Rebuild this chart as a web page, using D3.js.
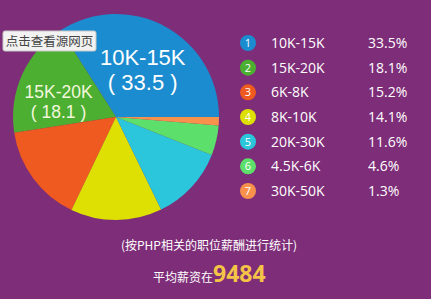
<!DOCTYPE html>
<html>
<head>
<meta charset="utf-8">
<script src="https://cdn.jsdelivr.net/npm/d3@7"></script>
<style>
  html, body { margin: 0; padding: 0; background: #7e2d78; }
  svg { display: block; font-family: "Open Sans", "Noto Sans CJK SC", sans-serif; }
</style>
</head>
<body>
<div id="chart"></div>
<script>
// salary ranges and share (%)
var ranges = ["10K-15K", "15K-20K", "6K-8K", "8K-10K", "20K-30K", "4.5K-6K", "30K-50K"];
var shares = [33.5, 18.1, 15.2, 14.1, 11.6, 4.6, 1.3];
var colors = ["#1b8ccf", "#4caf32", "#ee5a1f", "#dde002", "#2bc6dc", "#5ddf6b", "#f7914c"];
var avgSalary = "9484";

var svgWidth = 431;
var svgHeight = 299;

var svg = d3.select("#chart").append("svg")
    .attr("width", svgWidth).attr("height", svgHeight);

svg.append("rect").attr("width", svgWidth).attr("height", svgHeight).attr("fill", "#7e2d78");

// pie, counterclockwise from 3 o'clock
var cx = 116, cy = 117, radius = 103;

var pie = d3.pie()
    .sort(null)
    .startAngle(Math.PI / 2)
    .endAngle(Math.PI / 2 - 2 * Math.PI)
    .value(d => d);

var arc = d3.arc().innerRadius(0).outerRadius(radius);

var pieGroup = svg.append("g").attr("transform", `translate(${cx}, ${cy})`);
var arcs = pie(shares);

pieGroup.selectAll("path")
    .data(arcs)
    .enter()
    .append("path")
    .attr("d", arc)
    .attr("fill", (d, i) => colors[i]);

// big labels on the first two slices
var labelArc = d3.arc().innerRadius(radius * 0.58).outerRadius(radius * 0.58);
var labelSizes = [22, 17.5];
var labelShift = [[-2, 0.5, 25], [-3, 5.5, 20]]; // dx, first baseline, line gap
[0, 1].forEach(function(i) {
    var c = labelArc.centroid(arcs[i]);
    var fs = labelSizes[i];
    var s = labelShift[i];
    var fill = i == 0 ? "#ffffff" : "#f3f7dc";
    var t = pieGroup.append("text")
        .attr("text-anchor", "middle")
        .attr("fill", fill)
        .attr("font-family", "Liberation Sans")
        .attr("font-size", fs);
    t.append("tspan").attr("x", c[0] + s[0]).attr("y", c[1] + s[1]).text(ranges[i]);
    t.append("tspan").attr("x", c[0] + s[0]).attr("y", c[1] + s[1] + s[2]).text("( " + shares[i] + " )");
});

// tooltip box
var tip = svg.append("g").attr("transform", "translate(3, 31)");
tip.append("rect")
    .attr("width", 93).attr("height", 20).attr("rx", 2)
    .attr("fill", "#f2f2f2").attr("stroke", "#c8c8c8");
tip.append("text")
    .attr("x", 46.5).attr("y", 15)
    .attr("text-anchor", "middle")
    .attr("font-size", 12.5)
    .attr("fill", "#444")
    .attr("font-family", "Noto Sans CJK SC")
    .text("点击查看源网页");

// legend
var legendY = d3.scalePoint()
    .domain(ranges)
    .range([43, 191]);

var legend = svg.append("g");
var rows = legend.selectAll("g")
    .data(ranges)
    .enter()
    .append("g")
    .attr("transform", d => `translate(0, ${legendY(d)})`);

rows.append("circle")
    .attr("cx", 248).attr("cy", 0).attr("r", 8)
    .attr("fill", (d, i) => colors[i]);
rows.append("text")
    .attr("x", 248).attr("y", 4)
    .attr("text-anchor", "middle")
    .attr("font-size", 11)
    .attr("fill", "#fff")
    .text((d, i) => i + 1);
rows.append("text")
    .attr("x", 271).attr("y", 5)
    .attr("font-size", 14)
    .attr("fill", "#fff")
    .text(d => d);
rows.append("text")
    .attr("x", 368).attr("y", 5)
    .attr("font-size", 14)
    .attr("fill", "#fff")
    .text((d, i) => shares[i] + "%");

// footer
svg.append("text")
    .attr("x", 209).attr("y", 250)
    .attr("text-anchor", "middle")
    .attr("font-size", 12)
    .attr("fill", "#fff")
    .attr("font-family", "Noto Sans CJK SC")
    .text("(按PHP相关的职位薪酬进行统计)");

var avg = svg.append("text")
    .attr("x", 153).attr("y", 282)
    .attr("fill", "#fff");
avg.append("tspan")
    .attr("font-size", 12)
    .attr("font-family", "Noto Sans CJK SC")
    .text("平均薪资在");
avg.append("tspan")
    .attr("font-size", 23)
    .attr("font-weight", "bold")
    .attr("fill", "#f4c446")
    .text(avgSalary);
</script>
</body>
</html>
